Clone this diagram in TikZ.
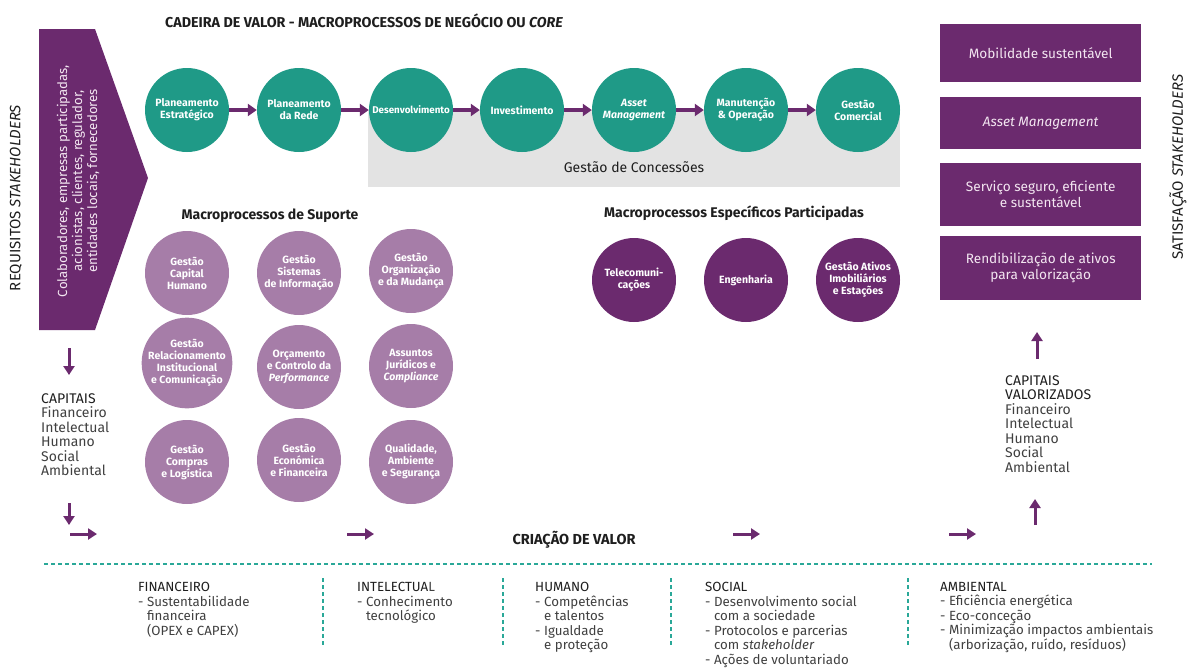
\documentclass[tikz,border=0pt]{standalone}
\usepackage{fontspec}
\setmainfont{Fira Sans}
\usetikzlibrary{arrows.meta}
\definecolor{pdark}{HTML}{6B2A6E}
\definecolor{plight}{HTML}{A67DA8}
\definecolor{tealc}{HTML}{1F9A87}
\definecolor{grayc}{HTML}{E3E3E3}
\definecolor{txt}{HTML}{404040}
\definecolor{txtdark}{HTML}{1E1E1E}
\definecolor{pale}{HTML}{F3E6F1}
\definecolor{dashc}{HTML}{2AA898}
\tikzset{
  circ/.style={circle, minimum size=84pt, inner sep=0pt, align=center, text=white,
    font=\fontsize{10.5}{12}\selectfont\bfseries},
  corec/.style={circ, fill=tealc},
  supc/.style={circ, fill=plight, text=white},
  partc/.style={circ, fill=pdark},
  flow/.style={draw=pdark, line width=3.5pt, -{Triangle[length=9pt,width=12pt]}},
  small flow/.style={draw=pdark, line width=3pt, -{Triangle[length=9pt,width=11pt]}},
  heading/.style={font=\fontsize{14}{16}\selectfont\bfseries, text=txtdark, inner sep=0pt},
  rbox/.style={rectangle, fill=pdark, text=pale, minimum width=201pt, inner sep=0pt, align=center,
    font=\fontsize{13.6}{16}\selectfont},
  caplist/.style={inner sep=0pt, align=left, text=txt, font=\fontsize{14}{14.5}\selectfont},
  bottomcol/.style={inner sep=0pt, align=left, text=txt, font=\fontsize{13.3}{14.5}\selectfont, anchor=north west},
  sideLabel/.style={inner sep=0pt, rotate=90, text=txtdark, font=\fontsize{15}{16}\selectfont},
  dashsep/.style={draw=dashc, line width=1.1pt, dash pattern=on 4pt off 3pt},
}
\begin{document}
\begin{tikzpicture}[x=1pt,y=-1pt]
\useasboundingbox (0,0) rectangle (1190,667);

% title
\node[heading, anchor=base west, font=\fontsize{14.3}{16}\selectfont\bfseries] (title) at (165,27) {CADEIRA DE VALOR - MACROPROCESSOS DE NEGÓCIO OU \textit{CORE}};

% left pentagon
\fill[pdark] (39,29) -- (95,29) -- (148,178) -- (95,330) -- (39,330) -- cycle;
\node[rotate=90, inner sep=0pt, align=center, text=pale, font=\fontsize{13.2}{15}\selectfont] (stk) at (78,181)
  {Colaboradores, empresas participadas,\\acionistas, clientes, regulador,\\entidades locais, fornecedores};
\node[sideLabel] (req) at (16,198) {REQUISITOS \textit{STAKEHOLDERS}};

% grey concessions band
\node[fill=grayc, minimum width=532pt, minimum height=77pt, inner sep=0pt, anchor=north west] (conc) at (368,110) {};
\node[inner sep=0pt, anchor=base, text=txtdark, font=\fontsize{14}{16}\selectfont] (conclab) at (634,172) {Gestão de Concessões};

% core chain
\node[corec] (c1) at (187,110) {Planeamento\\Estratégico};
\node[corec] (c2) at (299,110) {Planeamento\\da Rede};
\node[corec, font=\fontsize{9.8}{12}\selectfont\bfseries] (c3) at (411,110) {Desenvolvimento};
\node[corec] (c4) at (522,110) {Investimento};
\node[corec] (c5) at (634,110) {\textit{Asset}\\\textit{Management}};
\node[corec] (c6) at (746,110) {Manutenção\\\& Operação};
\node[corec] (c7) at (858,110) {Gestão\\Comercial};
\foreach \a/\b in {c1/c2,c2/c3,c3/c4,c4/c5,c5/c6,c6/c7}
  \draw[flow] (\a) -- (\b);

% support processes
\node[heading, anchor=base] (suph) at (270,219) {Macroprocessos de Suporte};
\node[supc] (s1) at (187,273) {Gestão\\Capital\\Humano};
\node[supc] (s2) at (299,273) {Gestão\\Sistemas\\de Informação};
\node[supc] (s3) at (411,271) {Gestão\\Organização\\e da Mudança};
\node[supc] (s4) at (187,363) {Gestão\\Relacionamento\\Institucional\\e Comunicação};
\node[supc] (s5) at (299,367) {Orçamento\\e Controlo da\\\textit{Performance}};
\node[supc] (s6) at (411,366) {Assuntos\\Jurídicos e\\\textit{Compliance}};
\node[supc] (s7) at (187,462) {Gestão\\Compras\\e Logística};
\node[supc] (s8) at (299,460) {Gestão\\Económica\\e Financeira};
\node[supc] (s9) at (411,462) {Qualidade,\\Ambiente\\e Segurança};

% participadas
\node[heading, anchor=base] (parth) at (734,217) {Macroprocessos Específicos Participadas};
\node[partc] (p1) at (634,280) {Telecomuni-\\cações};
\node[partc] (p2) at (746,280) {Engenharia};
\node[partc] (p3) at (858,280) {Gestão Ativos\\Imobiliários\\e Estações};

% right boxes
\node[rbox, minimum height=58pt, anchor=north west] (b1) at (940,24) {Mobilidade sustentável};
\node[rbox, minimum height=52pt, anchor=north west] (b2) at (940,97) {\textit{Asset Management}};
\node[rbox, minimum height=63pt, anchor=north west] (b3) at (940,163) {Serviço seguro, eficiente\\e sustentável};
\node[rbox, minimum height=64pt, anchor=north west] (b4) at (940,236) {Rendibilização de ativos\\para valorização};
\node[sideLabel] (sat) at (1178,167) {SATISFAÇÃO \textit{STAKEHOLDERS}};

% left capitals
\coordinate (d1s) at (69,348); \coordinate (d1e) at (69,375);
\draw[small flow] (d1s) -- (d1e);
\node[caplist, anchor=north west] (cap) at (41,393)
  {\textcolor{txtdark}{CAPITAIS}\\Financeiro\\Intelectual\\Humano\\Social\\Ambiental};
\coordinate (d2s) at (69,503); \coordinate (d2e) at (69,525);
\draw[small flow] (d2s) -- (d2e);

% value creation arrows
\coordinate (h1s) at (70,534); \coordinate (h1e) at (97,534);
\coordinate (h2s) at (347,534); \coordinate (h2e) at (374,534);
\coordinate (h3s) at (733,534); \coordinate (h3e) at (760,534);
\coordinate (h4s) at (949,534); \coordinate (h4e) at (976,534);
\foreach \s/\e in {h1s/h1e,h2s/h2e,h3s/h3e,h4s/h4e}
  \draw[small flow] (\s) -- (\e);
\node[heading, anchor=base, font=\fontsize{14.5}{16}\selectfont\bfseries] (cv) at (574,544) {CRIAÇÃO DE VALOR};

% right capitals
\coordinate (u1s) at (1037,359); \coordinate (u1e) at (1037,332);
\draw[small flow] (u1s) -- (u1e);
\node[caplist, anchor=north west] (capv) at (1005,375)
  {\textcolor{txtdark}{CAPITAIS}\\\textcolor{txtdark}{VALORIZADOS}\\Financeiro\\Intelectual\\Humano\\Social\\Ambiental};
\coordinate (u2s) at (1035,525); \coordinate (u2e) at (1035,499);
\draw[small flow] (u2s) -- (u2e);

% dashed separators
\draw[dashsep] (44,564) -- (1152,564);
\foreach \x in {323,503,671,908}
  \draw[dashsep] (\x,578) -- (\x,646);

% bottom columns
\node[bottomcol] (fin) at (138,582)
  {\textcolor{txtdark}{FINANCEIRO}\\- Sustentabilidade\\\hphantom{- }financeira\\\hphantom{- }(OPEX e CAPEX)};
\node[bottomcol] (int) at (357,582)
  {\textcolor{txtdark}{INTELECTUA}L\\- Conhecimento\\\hphantom{- }tecnológico};
\node[bottomcol] (hum) at (535,582)
  {\textcolor{txtdark}{HUMANO}\\- Competências\\\hphantom{- }e talentos\\- Igualdade\\\hphantom{- }e proteção};
\node[bottomcol] (soc) at (705,582)
  {\textcolor{txtdark}{SOCIAL}\\- Desenvolvimento social\\\hphantom{- }com a sociedade\\- Protocolos e parcerias\\\hphantom{- }com \textit{stakeholder}\\- Ações de voluntariado};
\node[bottomcol] (amb) at (940,582)
  {\textcolor{txtdark}{AMBIENTAL}\\- Eficiência energética\\- Eco-conceção\\- Minimização impactos ambientais\\\hphantom{- }(arborização, ruído, resíduos)};
\end{tikzpicture}
\end{document}
